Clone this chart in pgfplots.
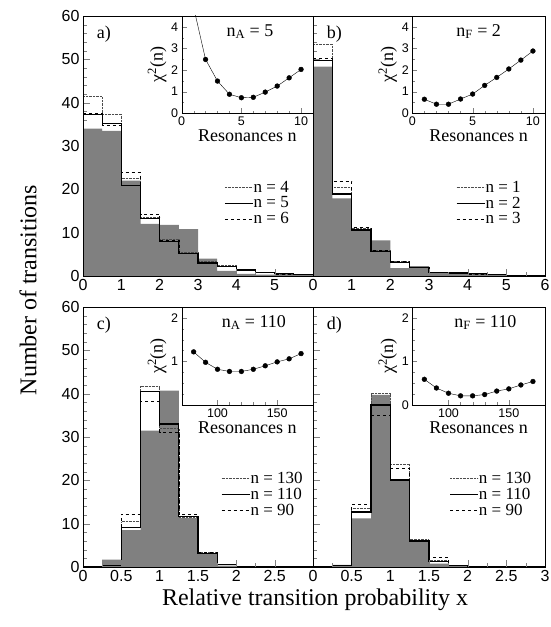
\documentclass[border=0pt]{standalone}
\usepackage{fontspec}
\setmainfont{Liberation Serif}
\setsansfont{Liberation Sans}
\usepackage{pgfplots}
\usepackage{pgfplotstable}
\pgfplotsset{compat=1.18}

\newcommand\tl{\sffamily\fontsize{16}{16}\selectfont}
\newcommand\il{\sffamily\fontsize{12.5}{12.5}\selectfont}
\newcommand\lf{\fontsize{18}{18}\selectfont}
\newcommand\gf{\fontsize{17}{17}\selectfont}

% x = left bin edge, s = measured (shaded), p = dotted, q = solid, r = dashed
\pgfplotstableread{
x   s    p    q    r
0   34   41.4 37.2 37.6
0.5 33.5 37.4 35.2 34.8
1   22   22.5 20.8 23.9
1.5 12   13.5 13.2 14.3
2   11.8 8.5  8    8.2
2.5 10.8 5.5  5.1  5.3
3   4    3.3  3    3.2
3.5 1.2  2.4  2.2  2.3
4   0.5  1.5  1.4  1.4
4.5 0.3  0.9  0.8  0.9
5   0.6  0.5  0.5  0.5
5.5 0.2  0.3  0.3  0.3
6   0.2  0.3  0.3  0.3
}\tabA
\pgfplotstableread{
x   s    p    q    r
0   48.3 53.5 49.8 50.3
0.5 17.9 20.5 18.9 21.8
1   10.6 11   10.6 11.2
1.5 8.2  6    5.6  6
2   1.8  3.3  3.1  3.3
2.5 2.3  2.1  2.0  2.1
3   0.8  0.9  0.8  0.9
3.5 0.5  0.7  0.7  0.7
4   0.6  0.5  0.5  0.5
4.5 0.3  0.3  0.3  0.3
5   0.2  0.2  0.2  0.2
5.5 0.1  0.1  0.1  0.1
6   0.1  0.1  0.1  0.1
}\tabB
\pgfplotstableread{
x    s    p    q    r
0    0    0    0    0
0.25 1.7  0.5  0.4  0.5
0.5  8.5  10.5 9.2  12.3
0.75 31.5 41.7 40.5 38.2
1    40.7 32   33   31.2
1.25 11.3 11.5 11.7 12.1
1.5  3.0  3.3  3.2  3.3
1.75 0.3  0.6  0.6  0.7
2    0    0.1  0.1  0.1
2.25 0    0    0    0
2.5  0    0    0    0
2.75 0    0    0    0
3    0    0    0    0
}\tabC
\pgfplotstableread{
x    s    p    q    r
0    0    0    0    0
0.25 0.5  0.4  0.4  0.5
0.5  11.2 13.5 12.7 14.5
0.75 39.7 40   37.4 35
1    20   23.8 20.1 22.8
1.25 6    6.3  6    6.2
1.5  0.8  1.6  1.2  2.2
1.75 0.2  0.3  0.3  0.4
2    0    0    0    0.1
2.25 0    0    0    0
2.5  0    0    0    0
2.75 0    0    0    0
3    0    0    0    0
}\tabD

\pgfplotsset{
  main/.style={scale only axis, axis on top, anchor=south west,
    xmin=0, ymin=0, ymax=60, height=260pt,
    tick align=inside, tick pos=left,
    major tick length=7pt, minor tick length=3.5pt,
    ytick={0,10,...,60}, minor y tick num=4,
    ticklabel style={font=\tl},
    /pgf/number format/assume math mode=true,
    legend cell align=left,
    legend image code/.code={\draw[#1] (0pt,0pt) -- (28pt,0pt);},
    legend style={draw=none, fill=none, font=\gf, row sep=2.5pt,
      nodes={inner sep=0.3pt}},
  },
  inset/.style={scale only axis, anchor=south west,
    axis background/.style={fill=white},
    tick align=inside, tick pos=left,
    major tick length=5pt, minor tick length=2.5pt,
    ticklabel style={font=\il},
    /pgf/number format/assume math mode=true,
    label style={font=\lf},
    xlabel={Resonances n}, ylabel={χ\textsuperscript{2}(n)},
    xlabel style={yshift=3pt}, ylabel style={yshift=-2pt},
  },
  sh/.style={const plot, fill=black!50, draw=none, forget plot},
  pd/.style={const plot, densely dotted, black!70},
  pq/.style={const plot, very thick, black},
  pr/.style={const plot, dashed, black},
  chi/.style={black, mark=*, mark size=2.4pt},
}

\begin{document}
\begin{tikzpicture}
\useasboundingbox (0,0) rectangle (551pt,627pt);

% a)
\begin{axis}[main, at={(83pt,351pt)}, width=230pt, xmax=6,
  xtick={0,1,...,5}, minor x tick num=1,
  legend style={at={(rel axis cs:0.91,0.375)}, anchor=north east}]
\addplot[sh] table[y=s]{\tabA} \closedcycle;
\addplot[pd] table[y=p]{\tabA};
\addplot[pq] table[y=q]{\tabA};
\addplot[pr] table[y=r]{\tabA};
\legend{{n = 4},{n = 5},{n = 6}}
\node[anchor=north west, font=\lf] at (rel axis cs:0.045,0.975) {a)};
\end{axis}

% b)
\begin{axis}[main, at={(313pt,351pt)}, width=232pt, xmax=6,
  xtick={0,1,...,6}, minor x tick num=1, yticklabels={},
  legend style={at={(rel axis cs:0.91,0.375)}, anchor=north east}]
\addplot[sh] table[y=s]{\tabB} \closedcycle;
\addplot[pd] table[y=p]{\tabB};
\addplot[pq] table[y=q]{\tabB};
\addplot[pr] table[y=r]{\tabB};
\legend{{n = 1},{n = 2},{n = 3}}
\node[anchor=north west, font=\lf] at (rel axis cs:0.045,0.975) {b)};
\end{axis}

% c)
\begin{axis}[main, at={(83pt,60pt)}, width=230pt, xmax=3,
  xtick={0,0.5,...,2.5}, minor x tick num=1,
  legend style={at={(rel axis cs:0.97,0.375)}, anchor=north east}]
\addplot[sh] table[y=s]{\tabC} \closedcycle;
\addplot[pd] table[y=p]{\tabC};
\addplot[pq] table[y=q]{\tabC};
\addplot[pr] table[y=r]{\tabC};
\legend{{n = 130},{n = 110},{n = 90}}
\node[anchor=north west, font=\lf] at (rel axis cs:0.045,0.975) {c)};
\end{axis}

% d)
\begin{axis}[main, at={(313pt,60pt)}, width=232pt, xmax=3,
  xtick={0,0.5,...,3}, minor x tick num=1, yticklabels={},
  legend style={at={(rel axis cs:0.955,0.375)}, anchor=north east}]
\addplot[sh] table[y=s]{\tabD} \closedcycle;
\addplot[pd] table[y=p]{\tabD};
\addplot[pq] table[y=q]{\tabD};
\addplot[pr] table[y=r]{\tabD};
\legend{{n = 130},{n = 110},{n = 90}}
\node[anchor=north west, font=\lf] at (rel axis cs:0.045,0.975) {d)};
\end{axis}

% insets
\begin{axis}[inset, at={(181.7pt,513.7pt)}, width=131.3pt, height=97.3pt,
  xmin=0, xmax=11, ymin=0, ymax=4.5, xtick={0,5,10}, minor x tick num=4,
  ytick={0,1,...,4}, minor y tick num=1]
\addplot[chi] coordinates {(1,4.9) (2,2.49) (3,1.49) (4,0.88) (5,0.72)
  (6,0.74) (7,0.98) (8,1.26) (9,1.64) (10,2.03)};
\node[font=\lf] at (rel axis cs:0.52,0.84) {n\textsubscript{A} = 5};
\end{axis}

\begin{axis}[inset, at={(412.3pt,513.7pt)}, width=132.7pt, height=97.3pt,
  xmin=0, xmax=11, ymin=0, ymax=4.5, xtick={0,5,10}, minor x tick num=4,
  ytick={0,1,...,4}, minor y tick num=1]
\addplot[chi] coordinates {(1,0.65) (2,0.42) (3,0.42) (4,0.66) (5,0.89)
  (6,1.29) (7,1.66) (8,2.05) (9,2.46) (10,2.88)};
\node[font=\lf] at (rel axis cs:0.5,0.84) {n\textsubscript{F} = 2};
\end{axis}

\begin{axis}[inset, at={(181.7pt,222pt)}, width=131.3pt, height=98pt,
  xmin=70, xmax=180, ymin=0, ymax=2.25, xtick={100,150}, minor x tick num=4,
  ytick={1,2}, minor ytick={0.25,0.5,0.75,1.25,1.5,1.75}]
\addplot[chi] coordinates {(80,1.22) (90,0.98) (100,0.82) (110,0.77)
  (120,0.77) (130,0.82) (140,0.90) (150,0.99) (160,1.06) (170,1.18)};
\node[font=\lf] at (rel axis cs:0.55,0.84) {n\textsubscript{A} = 110};
\end{axis}

\begin{axis}[inset, at={(412.3pt,222pt)}, width=132.7pt, height=98pt,
  xmin=70, xmax=180, ymin=0, ymax=2.25, xtick={100,150}, minor x tick num=4,
  ytick={0,1,2}, minor ytick={0.25,0.5,0.75,1.25,1.5,1.75}]
\addplot[chi] coordinates {(80,0.59) (90,0.39) (100,0.27) (110,0.21)
  (120,0.21) (130,0.24) (140,0.32) (150,0.37) (160,0.46) (170,0.54)};
\node[font=\lf] at (rel axis cs:0.55,0.84) {n\textsubscript{F} = 110};
\end{axis}

\node[rotate=90, font=\fontsize{24}{24}\selectfont] at (28pt,337pt) {Number of transitions};
\node[font=\fontsize{24}{24}\selectfont] at (315pt,27pt) {Relative transition probability x};
\end{tikzpicture}
\end{document}
